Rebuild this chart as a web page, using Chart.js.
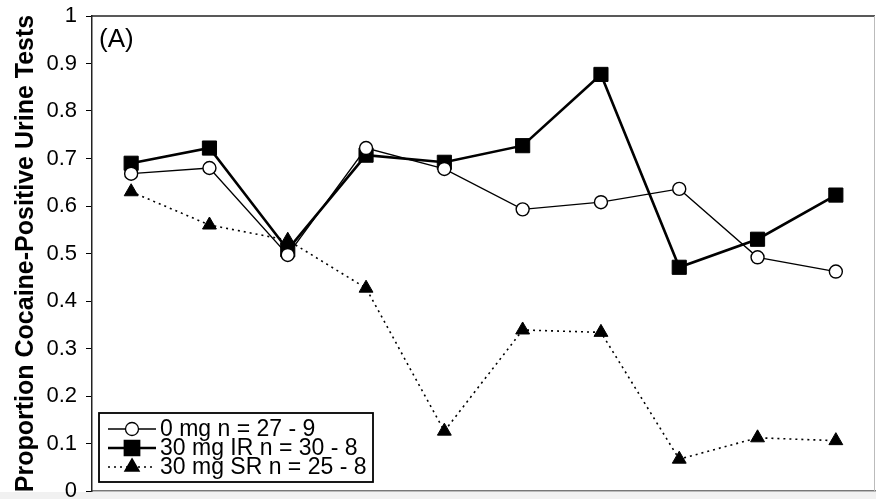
<!DOCTYPE html>
<html>
<head>
<meta charset="utf-8">
<script src="https://cdn.jsdelivr.net/npm/chart.js@4.4.1/dist/chart.umd.min.js"></script>
<style>
  html, body { margin: 0; padding: 0; background: #fff; }
  #wrap { width: 876px; height: 499px; position: relative; }
</style>
</head>
<body>
<div id="wrap"><canvas id="myChart" width="876" height="499"></canvas></div>
<script>
// data
const weeks = ['1', '2', '3', '4', '5', '6', '7', '8', '9', '10'];
const placebo = [0.668, 0.680, 0.497, 0.722, 0.678, 0.593, 0.608, 0.636, 0.492, 0.462];
const irDose = [0.690, 0.722, 0.508, 0.707, 0.692, 0.727, 0.877, 0.471, 0.530, 0.623];
const srDose = [0.630, 0.560, 0.528, 0.427, 0.126, 0.339, 0.334, 0.067, 0.112, 0.106];
const seriesNames = ['0 mg n = 27 - 9', '30 mg IR n = 30 - 8', '30 mg SR n = 25 - 8'];
const yTicks = [0, 0.1, 0.2, 0.3, 0.4, 0.5, 0.6, 0.7, 0.8, 0.9, 1];

const FONT = "'Liberation Sans', Arial, sans-serif";

// frame, panel tag and the boxed legend
const extras = {
  id: 'extras',
  beforeDraw(chart) {
    const c = chart.ctx;
    c.save();
    c.fillStyle = '#f1f1f1';
    c.fillRect(0, chart.chartArea.bottom + 1, chart.width, chart.height);
    c.restore();
  },
  afterDraw(chart) {
    const c = chart.ctx;
    const a = chart.chartArea;
    c.save();
    // top and right frame
    c.strokeStyle = '#222';
    c.lineWidth = 1.5;
    c.beginPath();
    c.moveTo(a.left, a.top);
    c.lineTo(a.right, a.top);
    c.stroke();
    c.strokeStyle = '#bbb';
    c.lineWidth = 1;
    c.beginPath();
    c.moveTo(a.right - 0.5, a.top);
    c.lineTo(a.right - 0.5, a.bottom);
    c.stroke();

    c.fillStyle = '#000';
    c.font = '26px ' + FONT;
    c.textBaseline = 'middle';
    c.fillText('(A)', a.left + 7, a.top + 24);

    // legend box
    const bx = 99, by = 413, bw = 274, bh = 69;
    c.fillStyle = '#fff';
    c.fillRect(bx, by, bw, bh);
    c.strokeStyle = '#000';
    c.lineWidth = 1.8;
    c.strokeRect(bx, by, bw, bh);
    const rows = [429, 448, 467];
    chart.data.datasets.forEach((ds, i) => {
      const y = rows[i];
      c.strokeStyle = '#000';
      c.lineWidth = ds.borderWidth;
      c.setLineDash(ds.borderDash || []);
      c.beginPath();
      c.moveTo(108, y);
      c.lineTo(156, y);
      c.stroke();
      c.setLineDash([]);
      Chart.helpers.drawPoint(c, {
        pointStyle: ds.pointStyle,
        radius: ds.pointRadius,
        borderWidth: ds.pointBorderWidth
      }, 132, y);
      c.fillStyle = '#000';
      c.font = '23px ' + FONT;
      c.textBaseline = 'middle';
      c.fillText(ds.label, 160, y + 1);
    });
    c.restore();
  }
};

const ctx = document.getElementById('myChart');

const myChart = new Chart(ctx, {
  type: 'line',
  data: {
    labels: weeks,
    datasets: [
      {
        label: seriesNames[0],
        data: placebo,
        borderColor: '#000',
        borderWidth: 1.3,
        pointStyle: 'circle',
        pointRadius: 6.5,
        pointBackgroundColor: '#fff',
        pointBorderColor: '#000',
        pointBorderWidth: 1.4
      },
      {
        label: seriesNames[1],
        data: irDose,
        borderColor: '#000',
        borderWidth: 2.6,
        pointStyle: 'rect',
        pointRadius: 10,
        pointBackgroundColor: '#000',
        pointBorderColor: '#000',
        pointBorderWidth: 1
      },
      {
        label: seriesNames[2],
        data: srDose,
        borderColor: '#000',
        borderWidth: 1.6,
        borderDash: [2, 4],
        pointStyle: 'triangle',
        pointRadius: 8,
        pointBackgroundColor: '#000',
        pointBorderColor: '#000',
        pointBorderWidth: 1
      }
    ]
  },
  options: {
    responsive: false,
    animation: false,
    layout: { autoPadding: false, padding: { top: 16, right: 1, bottom: 8, left: 0 } },
    plugins: {
      legend: { display: false },
      tooltip: { enabled: false }
    },
    scales: {
      x: {
        offset: true,
        grid: { display: false, drawTicks: false },
        border: { display: true, color: '#777', width: 1.5 },
        ticks: { display: false },
        afterFit(scale) {
          scale.height = 0;
          scale.paddingLeft = 0; scale.paddingRight = 0;
          scale.paddingTop = 0; scale.paddingBottom = 0;
        }
      },
      y: {
        min: 0,
        max: 1,
        afterBuildTicks(scale) {
          scale.ticks = yTicks.map(v => ({ value: v }));
        },
        grid: { drawOnChartArea: false, tickLength: 6, color: '#000', tickWidth: 1 },
        border: { display: true, color: '#222', width: 1.5 },
        ticks: {
          color: '#000',
          padding: 9,
          font: { family: FONT, size: 22 },
          callback: v => String(v)
        },
        title: {
          display: true,
          text: 'Proportion Cocaine-Positive Urine Tests',
          color: '#000',
          font: { family: FONT, size: 25, weight: 'bold' },
          padding: { top: 11, bottom: 0 }
        },
        afterFit(scale) {
          scale.width = 92;
          scale.paddingLeft = 0; scale.paddingRight = 0;
          scale.paddingTop = 0; scale.paddingBottom = 0;
        }
      }
    }
  },
  plugins: [extras]
});
</script>
</body>
</html>
